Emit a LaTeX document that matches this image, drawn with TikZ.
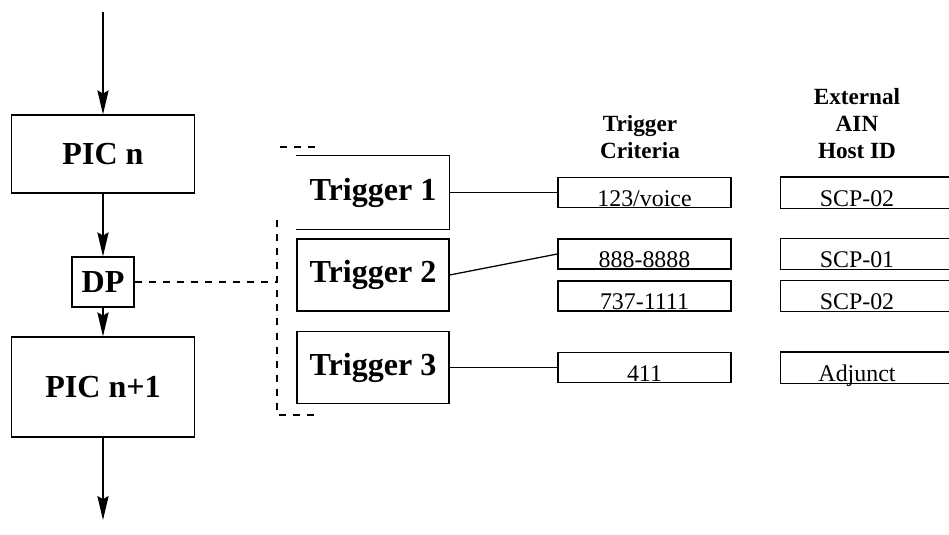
\documentclass[tikz,border=0pt]{standalone}
\usepackage{fontspec}
\setmainfont{Liberation Serif}
\usetikzlibrary{arrows.meta}

\begin{document}
\begin{tikzpicture}[x=0.025cm, y=-0.025cm, line width=0.9pt,
    flow/.style={-{Stealth[length=0.6cm,width=0.28cm,inset=0.08cm]}},
    dashline/.style={dash pattern=on 5pt off 5pt},
    picbox/.style={draw, minimum width=4.575cm, font=\fontsize{22.8}{27}\selectfont\bfseries},
    trig/.style={minimum width=3.8cm, minimum height=1.8cm, font=\fontsize{22.8}{27}\selectfont\bfseries},
    cell/.style={minimum height=0.75cm, inner sep=0pt},
    celltext/.style={anchor=base, inner sep=0pt, font=\fontsize{17}{20}\selectfont},
    head/.style={align=center, font=\fontsize{16.5}{19.2}\selectfont\bfseries}]

    \useasboundingbox (0,0) rectangle (949,534);

    % Call model
    \coordinate (in) at (103,12);
    \node[picbox, minimum height=1.95cm] (picn) at (103,154) {PIC n};
    \node[draw, inner sep=0pt, minimum width=1.55cm, minimum height=1.25cm,
          font=\fontsize{22.8}{27}\selectfont\bfseries] (dp) at (103,282) {DP};
    \node[picbox, minimum height=2.5cm] (picm) at (103,387) {PIC n+1};
    \coordinate (out) at (103,520);
    \draw[flow] (in) -- (picn);
    \draw[flow] (picn) -- (dp);
    \draw[flow] (dp) -- (picm);
    \draw[flow] (picm) -- (out);

    % Dashed bracket round the triggers
    \coordinate (brk) at (277,282);
    \draw[dashline] (dp) -- (brk);
    \draw[dashline] (280,147) -- (317,147);
    \draw[dashline] (277,220) -- (277,415) -- (317,415);

    % Triggers
    \node[trig] (t1) at (373,192.5) {Trigger 1};
    \draw (t1.north west) -- (t1.north east) -- (t1.south east) -- (t1.south west);
    \node[trig, draw] (t2) at (373,275) {Trigger 2};
    \node[trig, draw] (t3) at (373,367.5) {Trigger 3};

    % Column heads
    \node[head] (crit) at (640,137.5) {Trigger\\Criteria};
    \node[head] (host) at (857,124) {External\\AIN\\Host ID};

    % Table rows
    \foreach \y/\c/\h [count=\i] in {192.5/{123/voice}/SCP-02, 254/888-8888/SCP-01,
                                     296/737-1111/SCP-02, 367.5/411/Adjunct} {
        \node[cell, draw, minimum width=4.325cm] (c\i) at (644.5,\y) {};
        \node[celltext] (ct\i) at ([yshift=0.05cm]c\i.south) {\c};
        \node[cell, minimum width=4.2cm] (h\i) at (865,\y) {};
        \draw (h\i.north east) -- (h\i.north west) -- (h\i.south west) -- (h\i.south east);
        \node[celltext] (ht\i) at ([xshift=-0.2cm,yshift=0.05cm]h\i.south) {\h};
    }

    % Trigger links
    \draw (t1) -- (c1);
    \draw (t2.east) -- (c2.west);
    \draw (t3) -- (c4);
\end{tikzpicture}
\end{document}
